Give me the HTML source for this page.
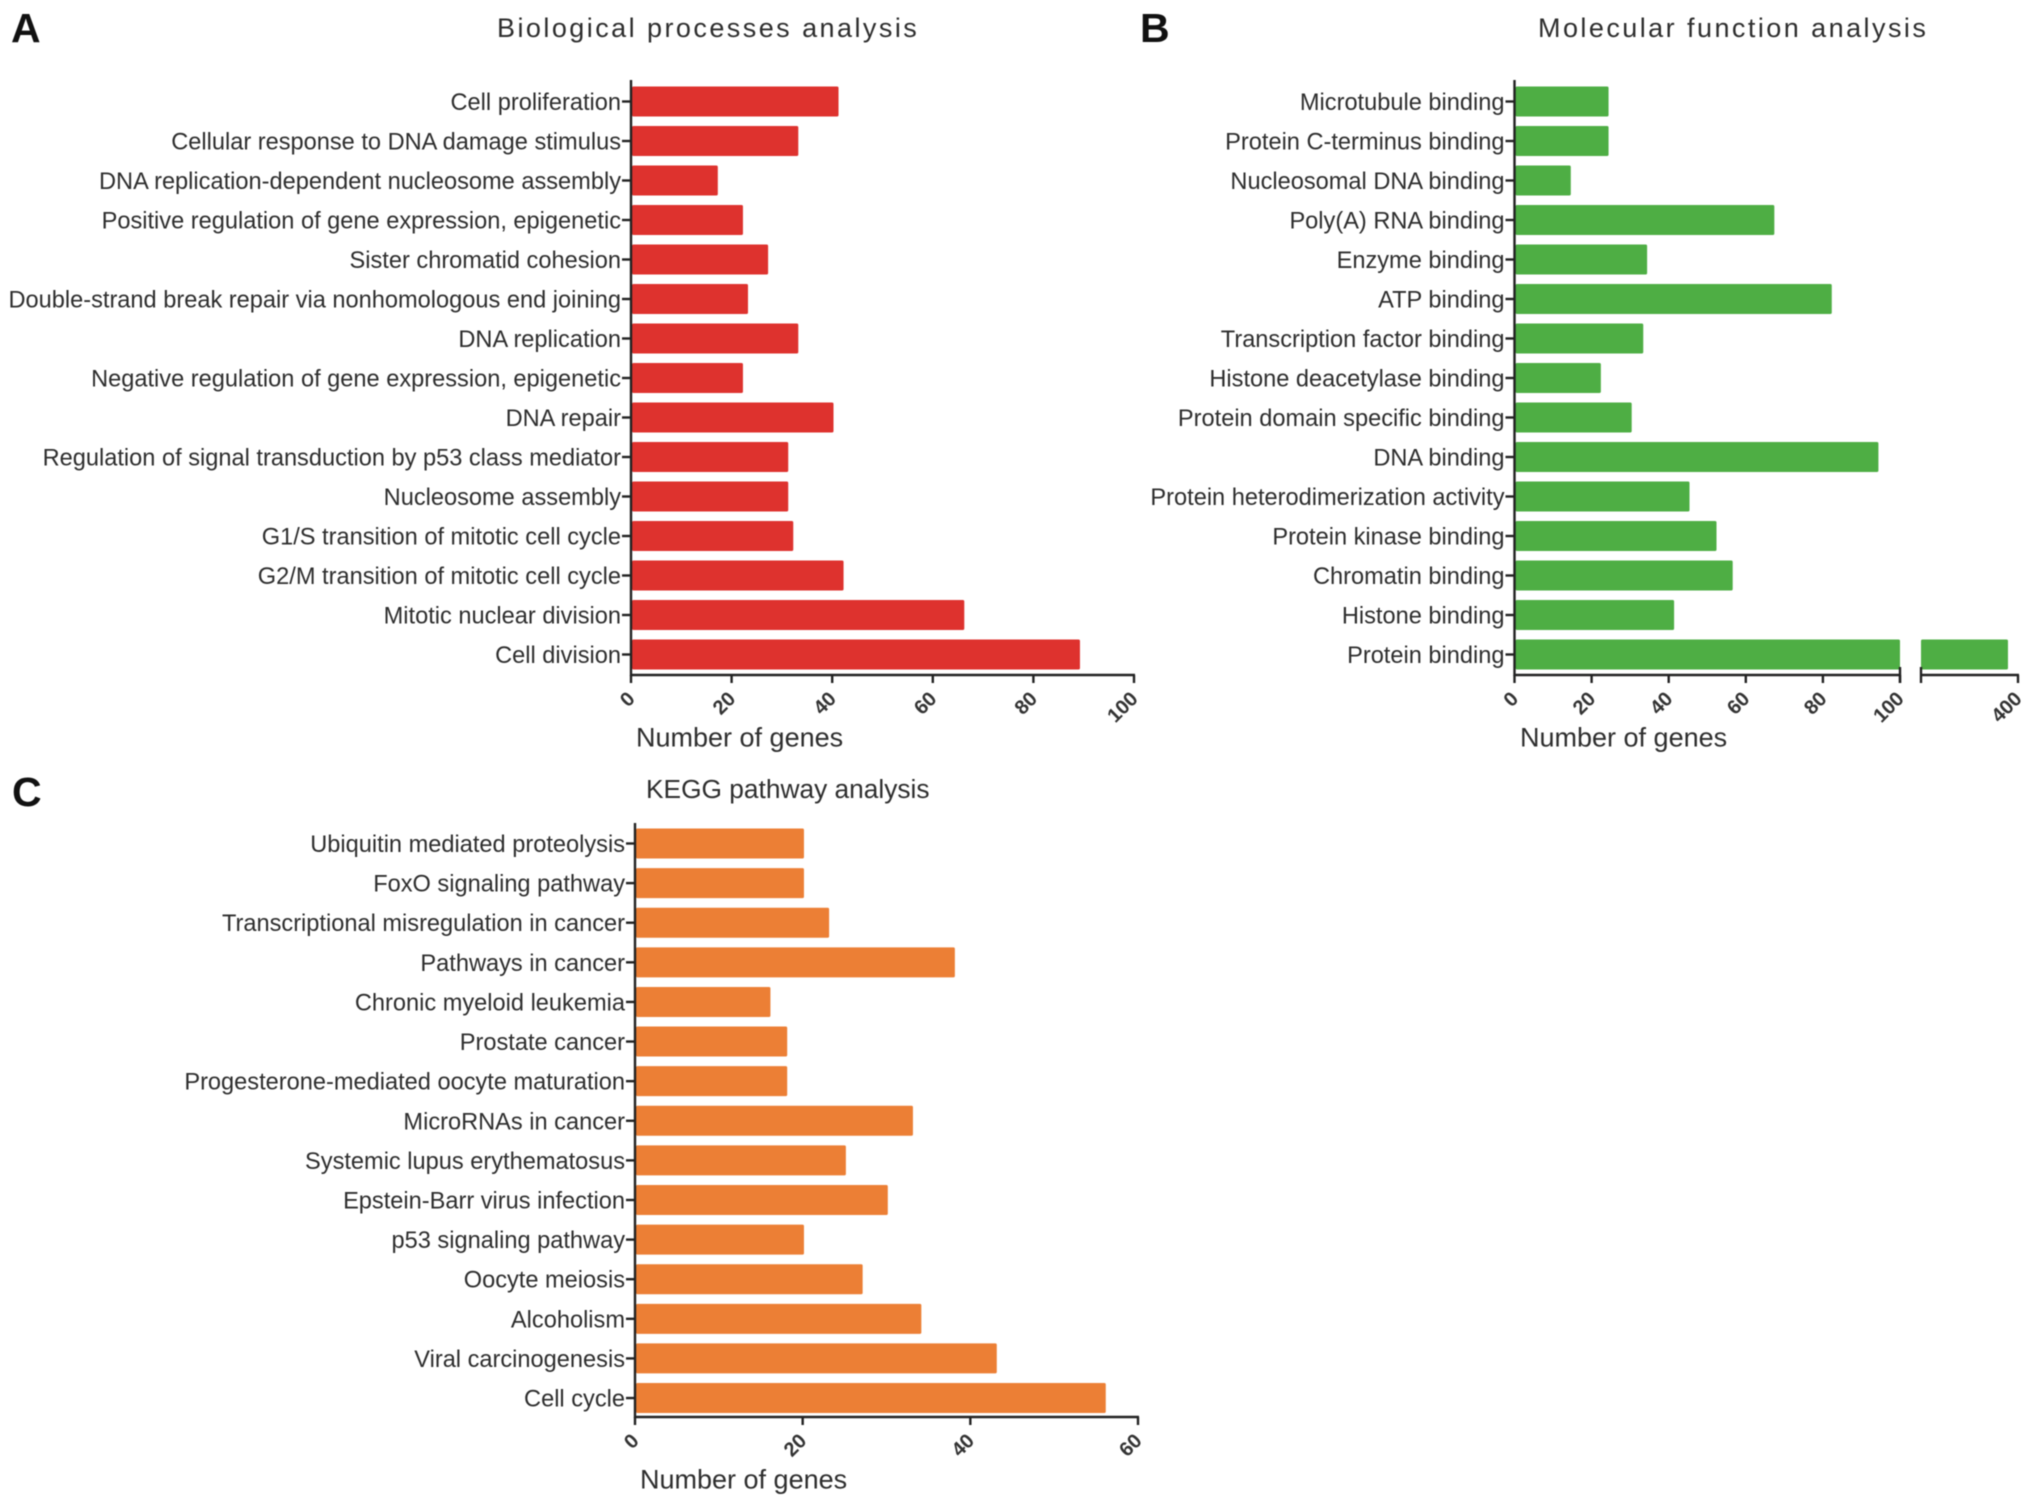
<!DOCTYPE html>
<html lang="en">
<head>
<meta charset="utf-8">
<title>Gene enrichment analysis</title>
<style>
html,body{margin:0;padding:0;background:#fff;width:2031px;height:1507px;overflow:hidden}
svg{display:block;filter:blur(0.6px)}
text{font-family:"Liberation Sans",Arial,sans-serif}
</style>
</head>
<body>
<svg id="figure" xmlns="http://www.w3.org/2000/svg" width="2031" height="1507" viewBox="0 0 2031 1507">
<rect width="2031" height="1507" fill="#fff"/>
<text x="11" y="42" font-size="41" font-weight="bold" fill="#111">A</text>
<text x="1140" y="42" font-size="41" font-weight="bold" fill="#111">B</text>
<text x="12" y="806" font-size="41" font-weight="bold" fill="#111">C</text>
<text x="497" y="37" font-size="27" letter-spacing="2.45" fill="#2e2e2e">Biological processes analysis</text>
<text x="1538" y="37" font-size="27" letter-spacing="2.45" fill="#2e2e2e">Molecular function analysis</text>
<text x="646" y="798" font-size="26.3" fill="#2e2e2e">KEGG pathway analysis</text>
<g id="panelA"></g>
<g id="panelB"></g>
<g id="panelC"></g>
</svg>
<script>
const bioCategories = ["Cell proliferation","Cellular response to DNA damage stimulus","DNA replication-dependent nucleosome assembly","Positive regulation of gene expression, epigenetic","Sister chromatid cohesion","Double-strand break repair via nonhomologous end joining","DNA replication","Negative regulation of gene expression, epigenetic","DNA repair","Regulation of signal transduction by p53 class mediator","Nucleosome assembly","G1/S transition of mitotic cell cycle","G2/M transition of mitotic cell cycle","Mitotic nuclear division","Cell division"];
const bioValues = [41,33,17,22,27,23,33,22,40,31,31,32,42,66,89];
const bioTicks = [0,20,40,60,80,100];

const molCategories = ["Microtubule binding","Protein C-terminus binding","Nucleosomal DNA binding","Poly(A) RNA binding","Enzyme binding","ATP binding","Transcription factor binding","Histone deacetylase binding","Protein domain specific binding","DNA binding","Protein heterodimerization activity","Protein kinase binding","Chromatin binding","Histone binding","Protein binding"];
const molValues = [24.4,24.4,14.6,67.4,34.4,82.3,33.4,22.4,30.4,94.4,45.4,52.4,56.6,41.4,369];
const molTicks = [0,20,40,60,80,100,400];

const keggCategories = ["Ubiquitin mediated proteolysis","FoxO signaling pathway","Transcriptional misregulation in cancer","Pathways in cancer","Chronic myeloid leukemia","Prostate cancer","Progesterone-mediated oocyte maturation","MicroRNAs in cancer","Systemic lupus erythematosus","Epstein-Barr virus infection","p53 signaling pathway","Oocyte meiosis","Alcoholism","Viral carcinogenesis","Cell cycle"];
const keggValues = [20,20,23,38,16,18,18,33,25,30,20,27,34,43,56];
const keggTicks = [0,20,40,60];

const NS = "http://www.w3.org/2000/svg";

function make(parent, tag, attrs, text) {
  const el = document.createElementNS(NS, tag);
  for (const k in attrs) el.setAttribute(k, attrs[k]);
  if (text !== undefined) el.textContent = text;
  parent.appendChild(el);
  return el;
}

function drawPanel(cfg) {
  const g = document.getElementById(cfg.id);
  const yPos = i => cfg.firstY + i * cfg.step;
  const barH = 30;
  const pad = cfg.barPad || 0;

  cfg.categories.forEach((cat, i) => {
    const y = yPos(i);
    const v = cfg.values[i];

    const tick = make(g, "line", {x1: cfg.x0 - 9, x2: cfg.x0, y1: y, y2: y, stroke: "#222", "stroke-width": 2.4});
    
    

    const label = make(g, "text", {x: cfg.x0 - 10, y: y + 8.5, "text-anchor": "end", "font-size": cfg.labelSize, fill: "#2e2e2e"}, cat);
    
    

    const broken = cfg.breakStart !== undefined && v > cfg.breakValue;
    const end = broken ? cfg.breakStart : cfg.x(v) + pad;
    const bar = make(g, "rect", {x: cfg.x0 + 1, y: y - barH / 2, width: Math.max(0, end - cfg.x0 - 1), height: barH, rx: 1.5, fill: cfg.color});
    
    

    if (broken) {
      const upper = make(g, "rect", {x: cfg.breakEnd, y: y - barH / 2, width: Math.max(0, cfg.x(v) - cfg.breakEnd), height: barH, rx: 1.5, fill: cfg.color});
      
      
    }
  });

  const yAxis = make(g, "line", {x1: cfg.x0, x2: cfg.x0, y1: cfg.top, y2: cfg.axisY + 1, stroke: "#222", "stroke-width": 2.4});
  
  

  if (cfg.breakStart !== undefined) {
    const xAxisLow = make(g, "line", {x1: cfg.x0 - 1, x2: cfg.breakStart + 1, y1: cfg.axisY, y2: cfg.axisY, stroke: "#222", "stroke-width": 2.6});
    
    
    const xAxisHigh = make(g, "line", {x1: cfg.breakEnd - 1, x2: cfg.xEnd + 1, y1: cfg.axisY, y2: cfg.axisY, stroke: "#222", "stroke-width": 2.6});
    
    
    [cfg.breakStart, cfg.breakEnd].forEach(bx => {
      const mark = make(g, "line", {x1: bx, x2: bx, y1: cfg.axisY - 8, y2: cfg.axisY + 8, stroke: "#222", "stroke-width": 2.4});
      
      
    });
  } else {
    const xAxis = make(g, "line", {x1: cfg.x0 - 1, x2: cfg.xEnd + 1, y1: cfg.axisY, y2: cfg.axisY, stroke: "#222", "stroke-width": 2.6});
    
    
  }

  cfg.ticks.forEach(t => {
    const tx = cfg.x(t);
    const xt = make(g, "line", {x1: tx, x2: tx, y1: cfg.axisY, y2: cfg.axisY + 8, stroke: "#222", "stroke-width": 2.4});
    
    
    const ax = tx + 5, ay = cfg.axisY + 25;
    const lab = make(g, "text", {x: ax, y: ay, "text-anchor": "end", "font-size": 20, "font-weight": "bold", fill: "#333", transform: "rotate(-45 " + ax + " " + ay + ")"}, String(t));
    
    
  });

  const xTitle = make(g, "text", {x: cfg.xTitleX, y: cfg.axisY + cfg.xTitleDy, "font-size": 27, fill: "#2e2e2e"}, "Number of genes");
  
  
}

const scaleA = v => 631 + v * (1134 - 631) / 100;
const scaleB = v => v <= 100 ? 1514.5 + v * (1900 - 1514.5) / 100 : 1921 + (v - 100) * (2018 - 1921) / 300;
const scaleC = v => 635 + v * (1138 - 635) / 60;

drawPanel({id: "panelA", categories: bioCategories, values: bioValues, ticks: bioTicks, x: scaleA, x0: 631, xEnd: 1134, top: 80, axisY: 675, firstY: 101.5, step: 39.5, color: "#DE322E", labelSize: 23.6, xTitleX: 636, xTitleDy: 71.5, barPad: 1.3});
drawPanel({id: "panelB", categories: molCategories, values: molValues, ticks: molTicks, x: scaleB, x0: 1514.5, xEnd: 2018, top: 80, axisY: 675, firstY: 101.5, step: 39.5, color: "#4EAE44", labelSize: 23.6, xTitleX: 1520, xTitleDy: 71.5, breakStart: 1900, breakEnd: 1921, breakValue: 100});
drawPanel({id: "panelC", categories: keggCategories, values: keggValues, ticks: keggTicks, x: scaleC, x0: 635, xEnd: 1138, top: 823, axisY: 1417, firstY: 843.5, step: 39.61, color: "#EC7F35", labelSize: 23.6, xTitleX: 640, xTitleDy: 71.5, barPad: 1.3});
</script>
</body>
</html>
